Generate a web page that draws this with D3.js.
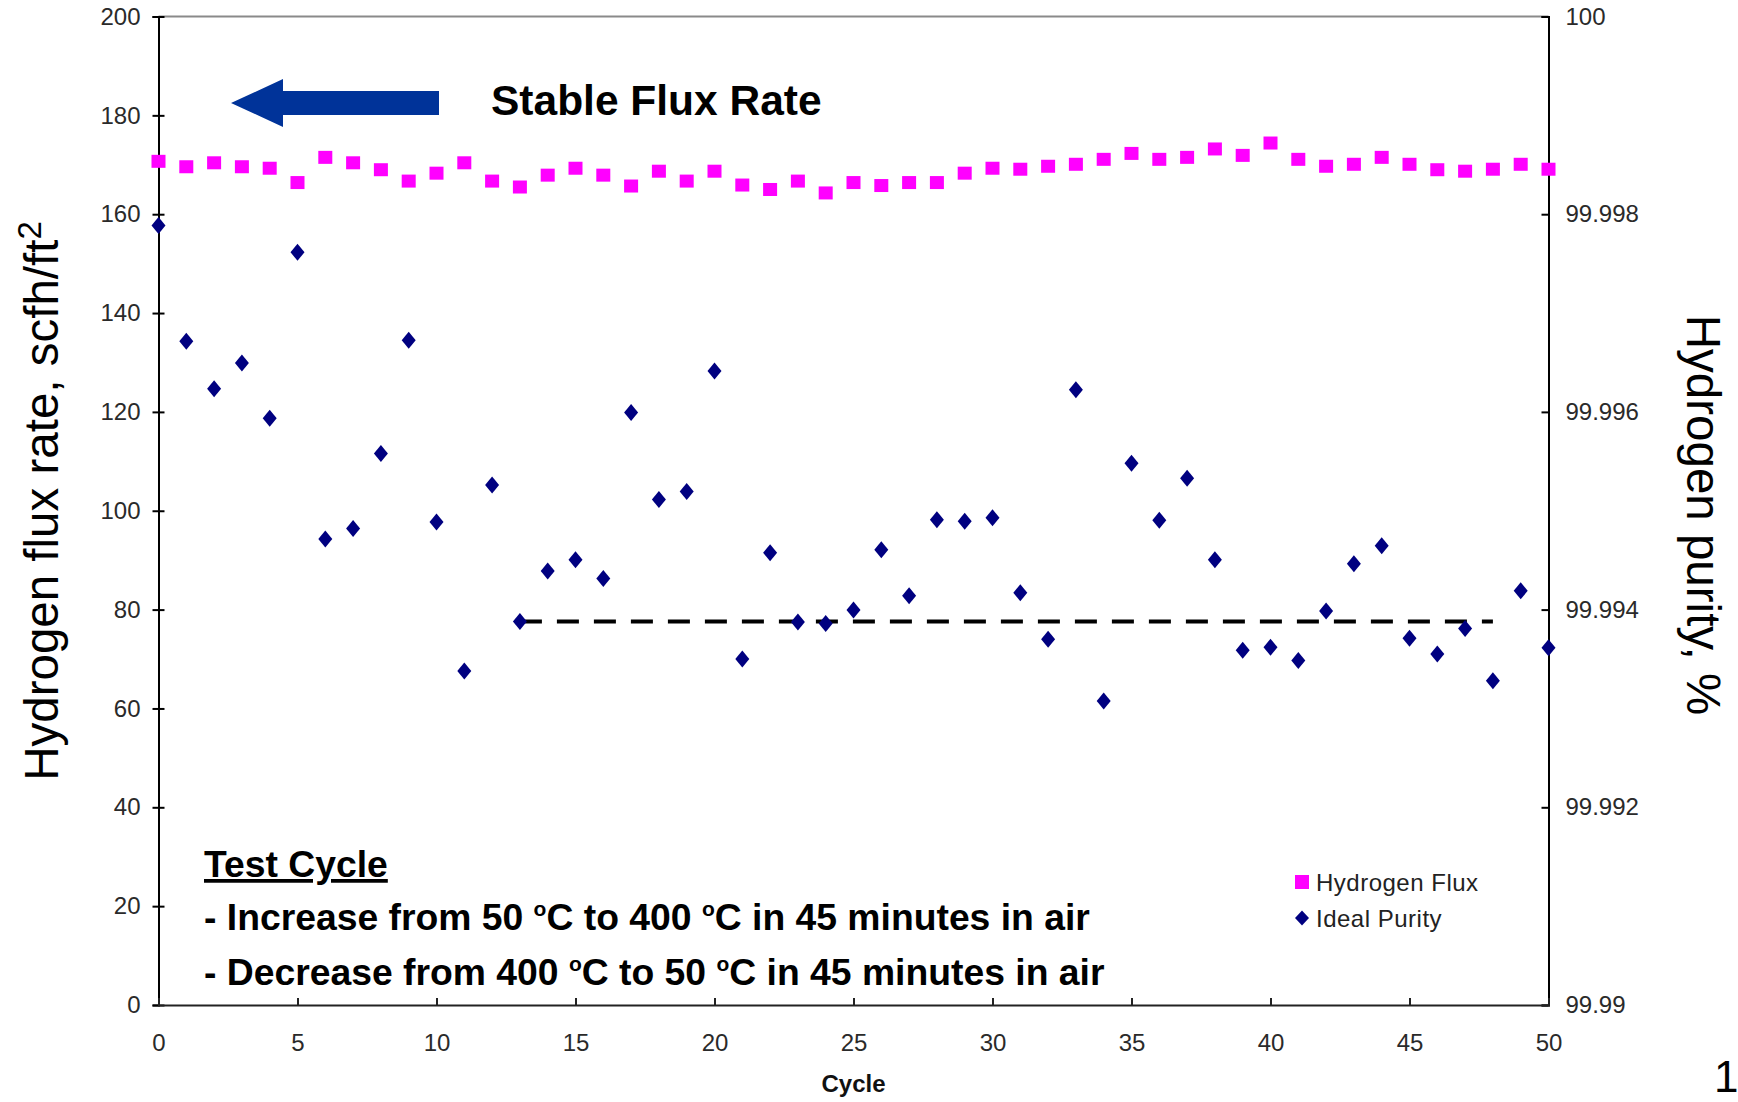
<!DOCTYPE html>
<html>
<head>
<meta charset="utf-8">
<script src="https://cdn.jsdelivr.net/npm/d3@7"></script>
<style>
  html, body { margin: 0; padding: 0; background: #fff; }
  svg { display: block; }
  text { font-family: "Liberation Sans", Arial, sans-serif; }
</style>
</head>
<body>
<svg id="chart" width="1738" height="1102"></svg>
<script>
// ---------- data ----------
const cycles = [0,1,2,3,4,5,6,7,8,9,10,11,12,13,14,15,16,17,18,19,20,21,22,23,24,25,
                26,27,28,29,30,31,32,33,34,35,36,37,38,39,40,41,42,43,44,45,46,47,48,49,50];

// Hydrogen flux rate, scfh/ft2 (left axis)
const hydrogenFlux = [170.7,169.6,170.4,169.6,169.3,166.4,171.5,170.4,169.0,166.7,168.3,170.4,166.7,
                      165.5,167.9,169.3,167.9,165.7,168.7,166.7,168.7,165.9,165.0,166.7,164.3,166.4,
                      165.8,166.4,166.4,168.3,169.3,169.1,169.7,170.1,171.1,172.3,171.1,171.5,173.2,
                      171.9,174.4,171.1,169.7,170.1,171.5,170.1,169.0,168.7,169.1,170.1,169.1];

// Ideal purity, % (right axis)
const idealPurity = [99.997885,99.996715,99.996235,99.996495,99.995935,99.997615,99.994715,99.99482,
                     99.99558,99.996725,99.994885,99.99338,99.99526,99.99388,99.99439,99.994505,
                     99.994315,99.995995,99.995115,99.995195,99.996415,99.9935,99.994575,99.993875,
                     99.99386,99.993995,99.994605,99.99414,99.99491,99.994895,99.99493,99.99417,
                     99.9937,99.996225,99.993075,99.99548,99.994905,99.99533,99.994505,99.99359,
                     99.99362,99.993485,99.993985,99.994465,99.994645,99.99371,99.99355,99.99381,
                     99.99328,99.99419,99.993615];

// dashed reference line (purity level, cycle span)
const refLineCycles = [13, 48];
const refLinePurity = 99.99388;

const xTicks = [0,5,10,15,20,25,30,35,40,45,50];
const leftTicks = [0,20,40,60,80,100,120,140,160,180,200];
const rightTicks = [99.99,99.992,99.994,99.996,99.998,100];
const rightTickLabels = ["99.99","99.992","99.994","99.996","99.998","100"];

const seriesNames = ["Hydrogen Flux", "Ideal Purity"];

// ---------- layout ----------
const svg = d3.select("#chart");
const L = 158.5, R = 1548.5, T = 16.5, B = 1005;

const x = d3.scaleLinear().domain([0, 50]).range([L, R]);
const yL = d3.scaleLinear().domain([0, 200]).range([B, T]);
const yR = d3.scaleLinear().domain([99.99, 100]).range([B, T]);

// frame
svg.append("line").attr("x1", L).attr("x2", R).attr("y1", T).attr("y2", T)
  .attr("stroke", "#8a8a8a").attr("stroke-width", 2);

const tickFont = g => g.selectAll("text")
  .attr("font-family", "'Liberation Sans', Arial, sans-serif")
  .attr("font-size", 24).attr("fill", "#2a2a2a");

// left axis
const gL = svg.append("g").attr("transform", `translate(${L},0)`)
  .call(d3.axisLeft(yL).tickValues(leftTicks).tickSize(6).tickPadding(12).tickFormat(d3.format("d")));
gL.select(".domain").attr("stroke", "#000").attr("stroke-width", 2);
gL.selectAll(".tick line").attr("x1", 6).attr("x2", -6).attr("stroke", "#000").attr("stroke-width", 2);
gL.call(tickFont);

// right axis
const gR = svg.append("g").attr("transform", `translate(${R},0)`)
  .call(d3.axisRight(yR).tickValues(rightTicks).tickSize(-7).tickPadding(17)
        .tickFormat((d, i) => rightTickLabels[i]));
gR.select(".domain").attr("stroke", "#000").attr("stroke-width", 2);
gR.selectAll(".tick line").attr("stroke", "#000").attr("stroke-width", 2);
gR.call(tickFont);

// bottom axis
const gB = svg.append("g").attr("transform", `translate(0,${B})`)
  .call(d3.axisBottom(x).tickValues(xTicks).tickSize(-7).tickPadding(29).tickFormat(d3.format("d")));
gB.select(".domain").attr("stroke", "#222").attr("stroke-width", 2);
gB.selectAll(".tick line").attr("stroke", "#222").attr("stroke-width", 2);
gB.call(tickFont);

// axis titles
svg.append("text")
  .attr("transform", `translate(58,501) rotate(-90)`)
  .attr("text-anchor", "middle").attr("font-size", 47.5).attr("fill", "#000")
  .html('Hydrogen flux rate, scfh/ft<tspan dy="-17" font-size="33">2</tspan>');

svg.append("text")
  .attr("transform", `translate(1687,515) rotate(90)`)
  .attr("text-anchor", "middle").attr("font-size", 47.5).attr("fill", "#000")
  .text("Hydrogen purity, %");

svg.append("text")
  .attr("x", x(25)).attr("y", 1092).attr("text-anchor", "middle")
  .attr("font-size", 24).attr("font-weight", "bold").attr("fill", "#111")
  .text("Cycle");

// dashed reference line
svg.append("line")
  .attr("x1", x(refLineCycles[0])).attr("x2", x(refLineCycles[1]))
  .attr("y1", yR(refLinePurity)).attr("y2", yR(refLinePurity))
  .attr("stroke", "#000").attr("stroke-width", 4).attr("stroke-dasharray", "22,15");

// hydrogen flux squares
svg.append("g").selectAll("rect").data(cycles).join("rect")
  .attr("x", (d, i) => x(d) - 7).attr("y", (d, i) => yL(hydrogenFlux[i]) - 6.5)
  .attr("width", 14).attr("height", 13).attr("fill", "#ff00ff");

// ideal purity diamonds
const diamond = (cx, cy, w, h) => `M${cx},${cy - h / 2}L${cx + w / 2},${cy}L${cx},${cy + h / 2}L${cx - w / 2},${cy}Z`;
svg.append("g").selectAll("path").data(cycles).join("path")
  .attr("d", (d, i) => diamond(x(d), yR(idealPurity[i]), 14, 17))
  .attr("fill", "#000080");

// legend
svg.append("rect").attr("x", 1295).attr("y", 875).attr("width", 14).attr("height", 14).attr("fill", "#ff00ff");
svg.append("path").attr("d", diamond(1302, 918, 14, 15)).attr("fill", "#000080");
svg.append("text").attr("x", 1316).attr("y", 891).attr("font-size", 24).attr("fill", "#222")
  .attr("letter-spacing", 0.5).text(seriesNames[0]);
svg.append("text").attr("x", 1316).attr("y", 927).attr("font-size", 24).attr("fill", "#222")
  .attr("letter-spacing", 0.5).text(seriesNames[1]);

// arrow + "Stable Flux Rate"
svg.append("path")
  .attr("d", "M231,103 L283,79 L283,91 L439,91 L439,115 L283,115 L283,127 Z")
  .attr("fill", "#003399");
svg.append("text").attr("x", 491).attr("y", 115).attr("font-size", 42.5).attr("font-weight", "bold")
  .attr("fill", "#000").text("Stable Flux Rate");

// Test cycle annotation
const noteSize = 37.3;
svg.append("text").attr("x", 204).attr("y", 877).attr("font-size", noteSize).attr("font-weight", "bold")
  .attr("fill", "#000").attr("text-decoration", "underline").text("Test Cycle");
svg.append("text").attr("x", 204).attr("y", 930).attr("font-size", noteSize).attr("font-weight", "bold")
  .attr("fill", "#000")
  .html('- Increase from 50 <tspan font-size="21" dy="-14">o</tspan><tspan dy="14">C to 400 </tspan><tspan font-size="21" dy="-14">o</tspan><tspan dy="14">C in 45 minutes in air</tspan>');
svg.append("text").attr("x", 204).attr("y", 985).attr("font-size", noteSize).attr("font-weight", "bold")
  .attr("fill", "#000")
  .html('- Decrease from 400 <tspan font-size="21" dy="-14">o</tspan><tspan dy="14">C to 50 </tspan><tspan font-size="21" dy="-14">o</tspan><tspan dy="14">C in 45 minutes in air</tspan>');

// page number
svg.append("text").attr("x", 1714).attr("y", 1092).attr("font-size", 44).attr("fill", "#000").text("1");
</script>
</body>
</html>
